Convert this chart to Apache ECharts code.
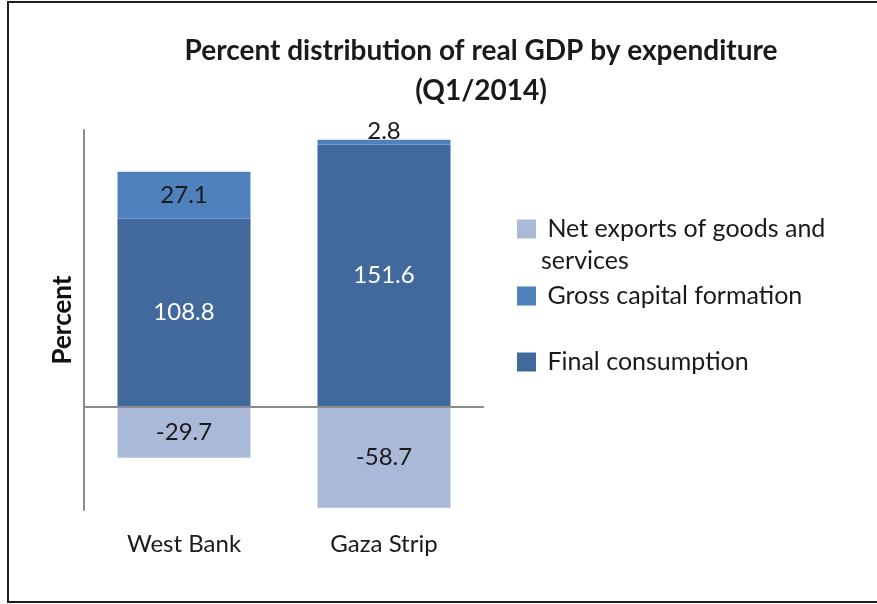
<!DOCTYPE html>
<html>
<head>
<meta charset="utf-8">
<script src="https://cdn.jsdelivr.net/npm/echarts@6/dist/echarts.min.js"></script>
<style>
	html, body {margin: 0; padding: 0; background: #fff;}
	#container {width: 877px; height: 604px;}
</style>
</head>
<body>
<div id="container"></div>
<script>
// regions on the x axis
const regions = ['West Bank', 'Gaza Strip'];
// percent of real GDP, Q1/2014
const finalConsumption = [108.8, 151.6];
const grossCapital = [27.1, 2.8];
const netExports = [-29.7, -58.7];

const seriesNames = ['Net exports of goods and services', 'Gross capital formation', 'Final consumption'];
const colors = {net: '#aab9d7', gross: '#4f81bd', final: '#41699b'};
const font = 'Lato, "Noto Sans", sans-serif';

function legendAt(name, top) {
	return {
		data: [name], left: 517, top: top, padding: 0, icon: 'rect', itemWidth: 19, itemHeight: 19,
		selectedMode: false,
		formatter: function (n) {
			// leading empty line keeps the icon next to the first text line
			return n === seriesNames[0] ? '\n Net exports of goods and\nservices' : ' ' + n;
		},
		textStyle: {fontSize: 25, fontFamily: font, color: '#1a1a1a', lineHeight: 32}
	};
}

const option = {
	backgroundColor: '#fff',
	animation: false,
	title: {
		text: 'Percent distribution of real GDP by expenditure\n(Q1/2014)',
		left: 481, top: 31, padding: 0, textAlign: 'center',
		textStyle: {fontSize: 28, fontWeight: 'bold', fontFamily: font, color: '#1a1a1a', lineHeight: 40}
	},
	legend: [
		legendAt(seriesNames[0], 181),
		legendAt(seriesNames[1], 280),
		legendAt(seriesNames[2], 346)
	],
	grid: {left: 84, right: 393, top: 130, bottom: 94},
	xAxis: {
		type: 'category', data: regions,
		axisLine: {show: false}, axisTick: {show: false},
		axisLabel: {margin: 22, fontSize: 24, fontFamily: font, color: '#1a1a1a'}
	},
	yAxis: {
		type: 'value', min: -60, max: 160, interval: 20,
		name: 'Percent', nameLocation: 'middle', nameRotate: 90, nameGap: 8,
		nameTextStyle: {fontSize: 26, fontWeight: 'bold', fontFamily: font, color: '#111'},
		axisLine: {show: true, lineStyle: {color: '#8c8c8c', width: 2}},
		axisTick: {show: false}, axisLabel: {show: false}, splitLine: {show: false}
	},
	series: [{
		name: seriesNames[2], type: 'bar', stack: 'gdp', barWidth: 133, data: finalConsumption,
		itemStyle: {color: colors.final},
		label: {show: true, position: 'inside', fontSize: 24, fontFamily: font, color: '#fff'},
		markLine: {
			silent: true, symbol: 'none', label: {show: false},
			lineStyle: {color: '#8c8c8c', width: 2, type: 'solid'},
			data: [{yAxis: 0}]
		}
	}, {
		name: seriesNames[1], type: 'bar', stack: 'gdp', barWidth: 133, data: [
			{value: grossCapital[0], label: {position: 'inside'}},
			{value: grossCapital[1], label: {position: 'top', distance: -4}}
		],
		itemStyle: {color: colors.gross},
		label: {show: true, fontSize: 24, fontFamily: font, color: '#1a1a1a'}
	}, {
		name: seriesNames[0], type: 'bar', stack: 'gdp', barWidth: 133, data: netExports,
		itemStyle: {color: colors.net},
		label: {show: true, position: 'inside', fontSize: 24, fontFamily: font, color: '#1a1a1a'}
	}],
	graphic: [{
		type: 'rect', silent: true, z: 100,
		shape: {x: 8, y: 2, width: 900, height: 600},
		style: {fill: 'none', stroke: '#1e1e1e', lineWidth: 2}
	}]
};
echarts.init(document.getElementById('container')).setOption(option);
</script>
</body>
</html>
